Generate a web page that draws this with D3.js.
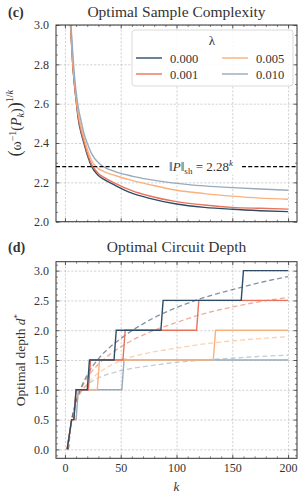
<!DOCTYPE html>
<html>
<head>
<meta charset="utf-8">
<script src="https://cdn.jsdelivr.net/npm/d3@7/dist/d3.min.js"></script>
<style>
  body { margin: 0; background: #fff; }
  svg text { font-family: "Liberation Serif", "Times New Roman", serif; fill: #333; }
</style>
</head>
<body>
<div id="chart"></div>
<script>
const width = 303;
const height = 496;

const lambdas = ["0.000", "0.001", "0.005", "0.010"];
const colors = ["#2e4c66", "#e8735a", "#fbb17b", "#98abbc"];

// (c) sample complexity
const sampleK = [3, 4, 5, 6, 7, 8, 10, 12, 15, 17, 20, 24, 30, 35, 45, 60, 75, 100, 125, 150, 175, 200];
const sample000 = [3.35, 3.12, 3.0, 2.9, 2.8, 2.73, 2.62, 2.52, 2.44, 2.40, 2.34, 2.28, 2.235, 2.215, 2.185, 2.145, 2.12, 2.09, 2.073, 2.063, 2.056, 2.051];
const sample001 = [3.35, 3.12, 3.0, 2.9, 2.8, 2.73, 2.62, 2.53, 2.45, 2.41, 2.35, 2.29, 2.245, 2.225, 2.195, 2.158, 2.132, 2.102, 2.085, 2.073, 2.068, 2.064];
const sample005 = [3.4, 3.15, 3.02, 2.92, 2.82, 2.75, 2.64, 2.55, 2.47, 2.43, 2.37, 2.31, 2.27, 2.255, 2.235, 2.21, 2.19, 2.16, 2.143, 2.13, 2.12, 2.114];
const sample010 = [3.45, 3.2, 3.05, 2.95, 2.86, 2.78, 2.66, 2.58, 2.5, 2.45, 2.4, 2.345, 2.3, 2.278, 2.255, 2.232, 2.215, 2.195, 2.182, 2.173, 2.166, 2.16];
const shadowNorm = 2.28;

// (d) optimal depth, step values
const depthK000 = [2, 6, 8, 10, 20, 22, 44, 46, 86, 88, 158, 160, 200];
const depth000 = [0, 0.5, 0.5, 1, 1, 1.5, 1.5, 2, 2, 2.5, 2.5, 3, 3];
const depthK001 = [2, 6, 8, 10, 21, 23, 52, 54, 118, 120, 200];
const depth001 = [0, 0.5, 0.5, 1, 1, 1.5, 1.5, 2, 2, 2.5, 2.5];
const depthK005 = [2, 6, 8, 10, 29, 31, 133, 135, 200];
const depth005 = [0, 0.5, 0.5, 1, 1, 1.5, 1.5, 2, 2];
const depthK010 = [2, 6, 10, 12, 51, 53, 200];
const depth010 = [0, 0.5, 0.5, 1, 1, 1.5, 1.5];

// (d) dashed continuous depth
const fitK = [3, 5, 10, 15, 20, 30, 40, 50, 75, 100, 125, 150, 175, 200];
const fit000 = [0, 0.35, 0.8, 1.06, 1.25, 1.52, 1.71, 1.86, 2.16, 2.38, 2.55, 2.68, 2.8, 2.9];
const fit001 = [0, 0.35, 0.8, 1.03, 1.2, 1.43, 1.59, 1.72, 1.96, 2.13, 2.28, 2.39, 2.48, 2.55];
const fit005 = [0, 0.35, 0.78, 0.98, 1.1, 1.28, 1.4, 1.49, 1.62, 1.7, 1.77, 1.82, 1.86, 1.89];
const fit010 = [0, 0.35, 0.8, 0.98, 1.08, 1.2, 1.27, 1.32, 1.4, 1.46, 1.5, 1.53, 1.56, 1.58];

const kTicks = [0, 50, 100, 150, 200];

const svg = d3.select("#chart")
  .append("svg")
  .attr("width", width)
  .attr("height", height);

const left = 56, right = 297;
const x = d3.scaleLinear().domain([-8, 208]).range([left, right]);

function zip(ks, vs) {
  return ks.map((k, i) => [k, vs[i]]);
}

function styleGrid(sel) {
  sel.selectAll("line")
    .attr("stroke", "#b3b3b3")
    .attr("stroke-width", 0.6)
    .attr("stroke-dasharray", "2.2,1.6");
}

function drawFrame(id, y, top, bottom, majorY, minorY, showX) {
  const g = svg.append("g");
  const minorX = d3.range(0, 210, 10).filter(v => !kTicks.includes(v));

  // grid
  g.append("g")
    .attr("transform", `translate(0,${bottom})`)
    .call(d3.axisBottom(x).tickValues(kTicks).tickSize(-(bottom - top)).tickFormat(""))
    .call(a => a.select(".domain").remove())
    .call(styleGrid);
  g.append("g")
    .attr("transform", `translate(${left},0)`)
    .call(d3.axisLeft(y).tickValues(majorY).tickSize(-(right - left)).tickFormat(""))
    .call(a => a.select(".domain").remove())
    .call(styleGrid);

  // major ticks, inward on all sides
  const majors = [
    [d3.axisBottom(x).tickValues(kTicks), `translate(0,${bottom})`, showX ? d3.format("d") : "", 5],
    [d3.axisTop(x).tickValues(kTicks), `translate(0,${top})`, "", 5],
    [d3.axisLeft(y).tickValues(majorY), `translate(${left},0)`, d3.format(".1f"), 7],
    [d3.axisRight(y).tickValues(majorY), `translate(${right},0)`, "", 5]
  ];
  majors.forEach(([ax, tr, fmt, pad]) => {
    const a = g.append("g").attr("transform", tr)
      .call(ax.tickSizeInner(-3.5).tickSizeOuter(0).tickPadding(pad).tickFormat(fmt));
    a.select(".domain").remove();
    a.selectAll("line").attr("stroke", "#333").attr("stroke-width", 0.8);
    a.selectAll("text").attr("font-size", "12px").attr("fill", "#333");
  });

  // minor ticks
  const minors = [
    [d3.axisBottom(x).tickValues(minorX), `translate(0,${bottom})`],
    [d3.axisTop(x).tickValues(minorX), `translate(0,${top})`],
    [d3.axisLeft(y).tickValues(minorY), `translate(${left},0)`],
    [d3.axisRight(y).tickValues(minorY), `translate(${right},0)`]
  ];
  minors.forEach(([ax, tr]) => {
    const a = g.append("g").attr("transform", tr)
      .call(ax.tickSizeInner(-2).tickSizeOuter(0).tickFormat(""));
    a.select(".domain").remove();
    a.selectAll("line").attr("stroke", "#333").attr("stroke-width", 0.6);
  });

  svg.append("clipPath").attr("id", id)
    .append("rect").attr("x", left).attr("y", top)
    .attr("width", right - left).attr("height", bottom - top);
  return g;
}

function drawBorder(top, bottom) {
  svg.append("rect")
    .attr("x", left).attr("y", top)
    .attr("width", right - left).attr("height", bottom - top)
    .attr("fill", "none").attr("stroke", "#333").attr("stroke-width", 1);
}

// ---------- panel (c)
const topC = 25, bottomC = 221.7;
const yC = d3.scaleLinear().domain([2.0, 3.0]).range([bottomC, topC]);
const majorC = [2.0, 2.2, 2.4, 2.6, 2.8, 3.0];
const minorC = d3.range(2.05, 3.0, 0.05).filter(v => Math.abs(v * 5 - Math.round(v * 5)) > 1e-6);
drawFrame("clipC", yC, topC, bottomC, majorC, minorC, false);

const lineC = d3.line().x(d => x(d[0])).y(d => yC(d[1])).curve(d3.curveMonotoneX);
const sampleSeries = [sample000, sample001, sample005, sample010];
const plotC = svg.append("g").attr("clip-path", "url(#clipC)");
sampleSeries.forEach((s, i) => {
  plotC.append("path")
    .attr("d", lineC(zip(sampleK, s)))
    .attr("fill", "none")
    .attr("stroke", colors[i])
    .attr("stroke-width", 1.4);
});

plotC.append("line")
  .attr("x1", left).attr("x2", right)
  .attr("y1", yC(shadowNorm)).attr("y2", yC(shadowNorm))
  .attr("stroke", "#000").attr("stroke-width", 1.2)
  .attr("stroke-dasharray", "4,2.2");

const normLabel = svg.append("g").attr("transform", `translate(${x(122)},${yC(shadowNorm)})`);
normLabel.append("rect")
  .attr("x", -41).attr("y", -8).attr("width", 82).attr("height", 16)
  .attr("fill", "#fff");
const normText = normLabel.append("text")
  .attr("text-anchor", "middle").attr("y", 4.5)
  .attr("font-size", "13px").attr("fill", "#222");
normText.append("tspan").text("\u2016");
normText.append("tspan").attr("font-style", "italic").text("P");
normText.append("tspan").text("\u2016");
normText.append("tspan").attr("font-size", "9px").attr("dy", 3).text("sh");
normText.append("tspan").attr("dy", -3).text(" = 2.28");
normText.append("tspan").attr("font-size", "9px").attr("font-style", "italic").attr("dy", -5).text("k");

drawBorder(topC, bottomC);

// legend
const legend = svg.append("g").attr("transform", "translate(132,30)");
legend.append("rect")
  .attr("width", 161).attr("height", 56).attr("rx", 3)
  .attr("fill", "#fff").attr("fill-opacity", 0.85)
  .attr("stroke", "#d0d0d0").attr("stroke-width", 0.8);
legend.append("text")
  .attr("x", 80).attr("y", 15)
  .attr("text-anchor", "middle").attr("font-size", "13px")
  .text("\u03bb");
lambdas.forEach((lab, i) => {
  const col = Math.floor(i / 2), row = i % 2;
  const gx = 4 + col * 86, gy = 28 + row * 16;
  legend.append("line")
    .attr("x1", gx).attr("x2", gx + 26).attr("y1", gy).attr("y2", gy)
    .attr("stroke", colors[i]).attr("stroke-width", 1.4);
  legend.append("text")
    .attr("x", gx + 34).attr("y", gy + 4.5)
    .attr("font-size", "12.5px")
    .text(lab);
});

// titles and labels (c)
svg.append("text").attr("x", 8).attr("y", 17)
  .attr("font-size", "14px").attr("font-weight", "bold").text("(c)");
svg.append("text").attr("x", (left + right) / 2).attr("y", 17)
  .attr("text-anchor", "middle").attr("font-size", "15.5px").text("Optimal Sample Complexity");

const ylabC = svg.append("text")
  .attr("transform", `translate(21,${(topC + bottomC) / 2}) rotate(-90)`)
  .attr("text-anchor", "middle").attr("font-size", "14px");
ylabC.append("tspan").attr("font-size", "18px").text("(");
ylabC.append("tspan").text("\u03c9");
ylabC.append("tspan").attr("font-size", "10px").attr("dy", -5).text("\u22121");
ylabC.append("tspan").attr("dy", 5).text("(");
ylabC.append("tspan").attr("font-style", "italic").text("P");
ylabC.append("tspan").attr("font-size", "10px").attr("font-style", "italic").attr("dy", 3).text("k");
ylabC.append("tspan").attr("dy", -3).text(")");
ylabC.append("tspan").attr("font-size", "18px").text(")");
ylabC.append("tspan").attr("font-size", "10px").attr("dy", -8).text("1/");
ylabC.append("tspan").attr("font-size", "10px").attr("font-style", "italic").text("k");

// ---------- panel (d)
const topD = 261.7, bottomD = 458.3;
const yD = d3.scaleLinear().domain([-0.15, 3.15]).range([bottomD, topD]);
const majorD = [0, 0.5, 1.0, 1.5, 2.0, 2.5, 3.0];
const minorD = d3.range(-0.1, 3.15, 0.1).filter(v => Math.abs(v * 2 - Math.round(v * 2)) > 1e-6);
drawFrame("clipD", yD, topD, bottomD, majorD, minorD, true);

const plotD = svg.append("g").attr("clip-path", "url(#clipD)");
const lineD = d3.line().x(d => x(d[0])).y(d => yD(d[1]));
const fitLine = d3.line().x(d => x(d[0])).y(d => yD(d[1])).curve(d3.curveMonotoneX);
const fitSeries = [fit000, fit001, fit005, fit010];
const stepSeries = [[depthK000, depth000], [depthK001, depth001], [depthK005, depth005], [depthK010, depth010]];

for (let i = 3; i >= 0; i--) {
  plotD.append("path")
    .attr("d", fitLine(zip(fitK, fitSeries[i])))
    .attr("fill", "none")
    .attr("stroke", colors[i]).attr("stroke-opacity", 0.6)
    .attr("stroke-width", 1.3)
    .attr("stroke-dasharray", "5,3");
}
for (let i = 3; i >= 0; i--) {
  plotD.append("path")
    .attr("d", lineD(zip(stepSeries[i][0], stepSeries[i][1])))
    .attr("fill", "none")
    .attr("stroke", colors[i])
    .attr("stroke-width", 1.4);
}
drawBorder(topD, bottomD);

svg.append("text").attr("x", 8).attr("y", 252)
  .attr("font-size", "14px").attr("font-weight", "bold").text("(d)");
svg.append("text").attr("x", (left + right) / 2).attr("y", 252)
  .attr("text-anchor", "middle").attr("font-size", "15.5px").text("Optimal Circuit Depth");

const ylabD = svg.append("text")
  .attr("transform", `translate(25,${(topD + bottomD) / 2}) rotate(-90)`)
  .attr("text-anchor", "middle").attr("font-size", "13.5px");
ylabD.append("tspan").text("Optimal depth ");
ylabD.append("tspan").attr("font-style", "italic").text("d");
ylabD.append("tspan").attr("font-size", "9px").attr("dy", -5).text("*");

svg.append("text").attr("x", (left + right) / 2).attr("y", 491)
  .attr("text-anchor", "middle").attr("font-size", "13px").attr("font-style", "italic").text("k");
</script>
</body>
</html>
